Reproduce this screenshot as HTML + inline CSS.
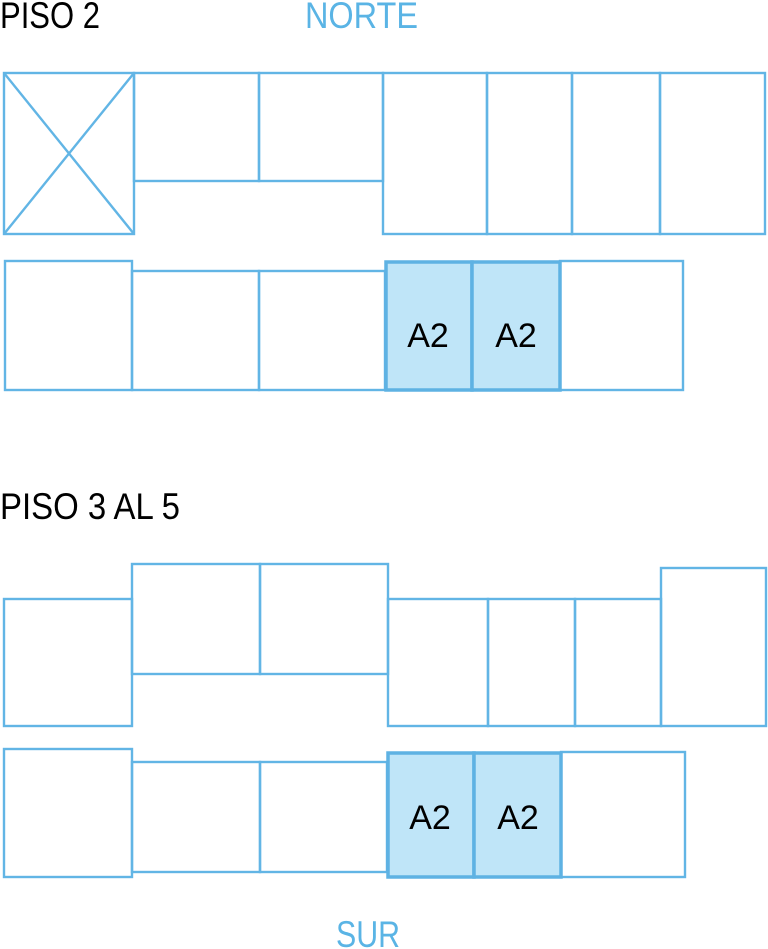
<!DOCTYPE html>
<html><head><style>
html,body{margin:0;padding:0;background:#fff;}
svg{display:block;}
text{font-family:"Liberation Sans",sans-serif;}
</style></head><body>
<svg width="768" height="949" viewBox="0 0 768 949" xmlns="http://www.w3.org/2000/svg">
<g fill="#000" font-size="37">
<text x="0" y="28" textLength="100" lengthAdjust="spacingAndGlyphs">PISO 2</text>
<text x="0" y="519" textLength="180" lengthAdjust="spacingAndGlyphs">PISO 3 AL 5</text>
</g>
<g fill="#5ab4e5" font-size="37">
<text x="305" y="28" textLength="113" lengthAdjust="spacingAndGlyphs">NORTE</text>
<text x="336" y="947" textLength="64" lengthAdjust="spacingAndGlyphs">SUR</text>
</g>
<g fill="none" stroke="#62b5e5" stroke-width="2.4">
<rect x="4" y="73" width="130" height="161"/>
<line x1="4" y1="73" x2="134" y2="234"/>
<line x1="134" y1="73" x2="4" y2="234"/>
<rect x="134" y="73" width="125" height="108"/>
<rect x="259" y="73" width="124" height="108"/>
<rect x="383" y="73" width="104" height="161"/>
<rect x="487" y="73" width="85" height="161"/>
<rect x="572" y="73" width="88" height="161"/>
<rect x="660" y="73" width="105" height="161"/>
<rect x="5" y="261" width="127" height="129"/>
<rect x="132" y="271" width="127" height="119"/>
<rect x="259" y="271" width="126" height="119"/>
<rect x="560" y="261" width="123" height="129"/>
<rect x="4" y="599" width="128" height="127"/>
<rect x="132" y="564" width="128" height="110"/>
<rect x="260" y="564" width="128" height="110"/>
<rect x="388" y="599" width="100" height="127"/>
<rect x="488" y="599" width="87" height="127"/>
<rect x="575" y="599" width="86" height="127"/>
<rect x="661" y="568" width="105" height="158"/>
<rect x="4" y="749" width="128" height="128"/>
<rect x="132" y="762" width="128" height="110"/>
<rect x="260" y="762" width="127" height="110"/>
<rect x="561" y="752" width="124" height="125"/>
</g>
<g fill="#bfe5f8" stroke="#5eb2e3" stroke-width="3.5">
<rect x="386" y="262" width="86" height="128"/>
<rect x="472" y="262" width="88" height="128"/>
<rect x="388" y="753" width="86" height="124"/>
<rect x="474" y="753" width="87" height="124"/>
</g>
<g fill="#000" font-size="34" text-anchor="middle">
<text x="428" y="347">A2</text>
<text x="516" y="347">A2</text>
<text x="430" y="829">A2</text>
<text x="518" y="829">A2</text>
</g>
</svg>
</body></html>
